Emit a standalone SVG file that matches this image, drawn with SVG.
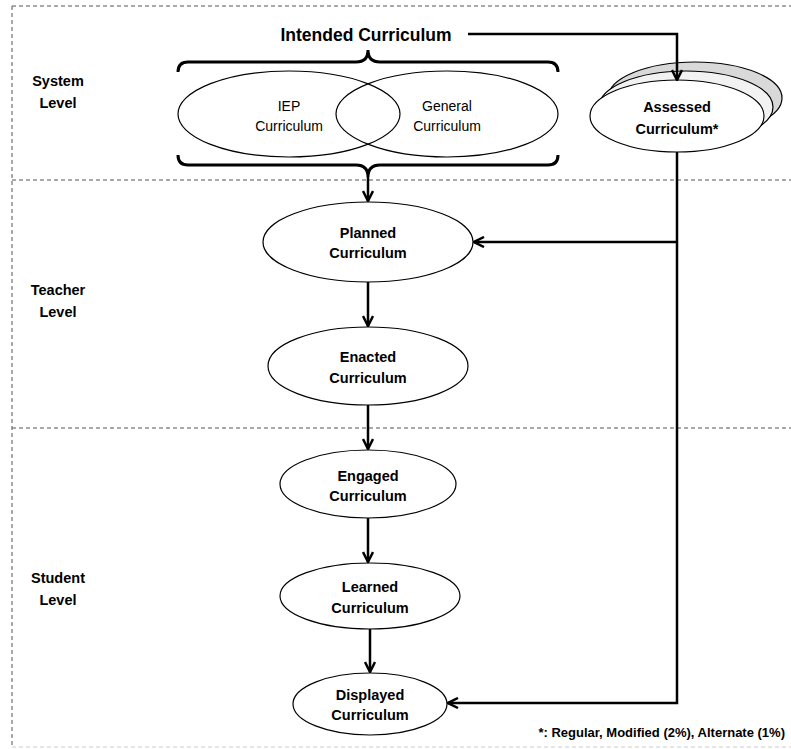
<svg xmlns="http://www.w3.org/2000/svg" width="791" height="749" viewBox="0 0 791 749">
<defs>
<style>
.dash{stroke:#555;stroke-width:1;stroke-dasharray:4 3;fill:none}
.node{fill:#fff;stroke:#000;stroke-width:1.2}
.conn{fill:none;stroke:#000;stroke-width:2.5}
.brace{fill:none;stroke:#000;stroke-width:3}
.lbl{font-family:"Liberation Sans",Arial,sans-serif;font-weight:bold;font-size:14.5px;text-anchor:middle;fill:#000}
.reg{font-family:"Liberation Sans",Arial,sans-serif;font-size:14px;text-anchor:middle;fill:#000}
</style>
<marker id="arr" viewBox="0 0 12 12" refX="11" refY="6" markerWidth="12" markerHeight="12" markerUnits="userSpaceOnUse" orient="auto">
<path d="M1,1 L11,6 L1,11" fill="none" stroke="#000" stroke-width="2.5"/>
</marker>
</defs>
<rect width="791" height="749" fill="#fff"/>
<g id="frame">
<line class="dash" x1="12" y1="6" x2="791" y2="6"/>
<line class="dash" x1="12" y1="6" x2="12" y2="747"/>
<line class="dash" x1="12" y1="747" x2="791" y2="747" style="stroke:#ccc"/>
<line class="dash" x1="12" y1="180" x2="791" y2="180"/>
<line class="dash" x1="12" y1="428" x2="791" y2="428"/>
</g>
<g id="level-labels">
<text class="lbl" x="58" y="86">System</text>
<text class="lbl" x="58" y="108">Level</text>
<text class="lbl" x="58" y="295">Teacher</text>
<text class="lbl" x="58" y="317">Level</text>
<text class="lbl" x="58" y="583">Student</text>
<text class="lbl" x="58" y="605">Level</text>
</g>
<g id="intended">
<text class="lbl" x="366" y="41" style="font-size:17.5px">Intended Curriculum</text>
<path class="brace" d="M178,72 Q178,62 188,62 L356,62 Q368,62 368,50 Q368,62 380,62 L548,62 Q558,62 558,72"/>
<path class="brace" d="M178,155 Q178,165 188,165 L356,165 Q368,165 368,177 Q368,165 380,165 L548,165 Q558,165 558,155"/>
</g>
<g id="iep">
<ellipse class="node" style="fill:none" cx="289" cy="114" rx="111" ry="43"/>
<text class="reg" x="289" y="111">IEP</text>
<text class="reg" x="289" y="131">Curriculum</text>
</g>
<g id="general">
<ellipse class="node" style="fill:none" cx="447" cy="114" rx="111" ry="43"/>
<text class="reg" x="447" y="111">General</text>
<text class="reg" x="447" y="131">Curriculum</text>
</g>
<g id="assessed">
<ellipse class="node" style="fill:#d9d9d9" cx="695" cy="98" rx="87" ry="36"/>
<ellipse class="node" style="fill:#f2f2f2" cx="686" cy="107" rx="87" ry="36"/>
<ellipse class="node" cx="677" cy="116" rx="87" ry="36"/>
<text class="lbl" x="677" y="112">Assessed</text>
<text class="lbl" x="677" y="134">Curriculum*</text>
</g>
<g id="planned">
<ellipse class="node" cx="368" cy="242" rx="105" ry="40"/>
<text class="lbl" x="368" y="238">Planned</text>
<text class="lbl" x="368" y="258">Curriculum</text>
</g>
<g id="enacted">
<ellipse class="node" cx="368" cy="366" rx="100" ry="39"/>
<text class="lbl" x="368" y="362">Enacted</text>
<text class="lbl" x="368" y="383">Curriculum</text>
</g>
<g id="engaged">
<ellipse class="node" cx="368" cy="484" rx="88" ry="34"/>
<text class="lbl" x="368" y="481">Engaged</text>
<text class="lbl" x="368" y="501">Curriculum</text>
</g>
<g id="learned">
<ellipse class="node" cx="370" cy="596" rx="90" ry="33"/>
<text class="lbl" x="370" y="592">Learned</text>
<text class="lbl" x="370" y="613">Curriculum</text>
</g>
<g id="displayed">
<ellipse class="node" cx="370" cy="704" rx="77" ry="31"/>
<text class="lbl" x="370" y="700">Displayed</text>
<text class="lbl" x="370" y="720">Curriculum</text>
</g>
<g id="connectors">
<path class="conn" d="M468,34 L677,34 L677,80" marker-end="url(#arr)"/>
<path class="conn" d="M368,177 L368,201" marker-end="url(#arr)"/>
<path class="conn" d="M677,152 L677,703 L448,703" marker-end="url(#arr)"/>
<path class="conn" d="M677,242 L474,242" marker-end="url(#arr)"/>
<path class="conn" d="M368,282 L368,326" marker-end="url(#arr)"/>
<path class="conn" d="M368,405 L368,449" marker-end="url(#arr)"/>
<path class="conn" d="M368,518 L368,562" marker-end="url(#arr)"/>
<path class="conn" d="M370,629 L370,672" marker-end="url(#arr)"/>
</g>
<text x="785" y="737" style="font-family:'Liberation Sans',Arial,sans-serif;font-weight:bold;font-size:13px;text-anchor:end">*: Regular, Modified (2%), Alternate (1%)</text>
</svg>
